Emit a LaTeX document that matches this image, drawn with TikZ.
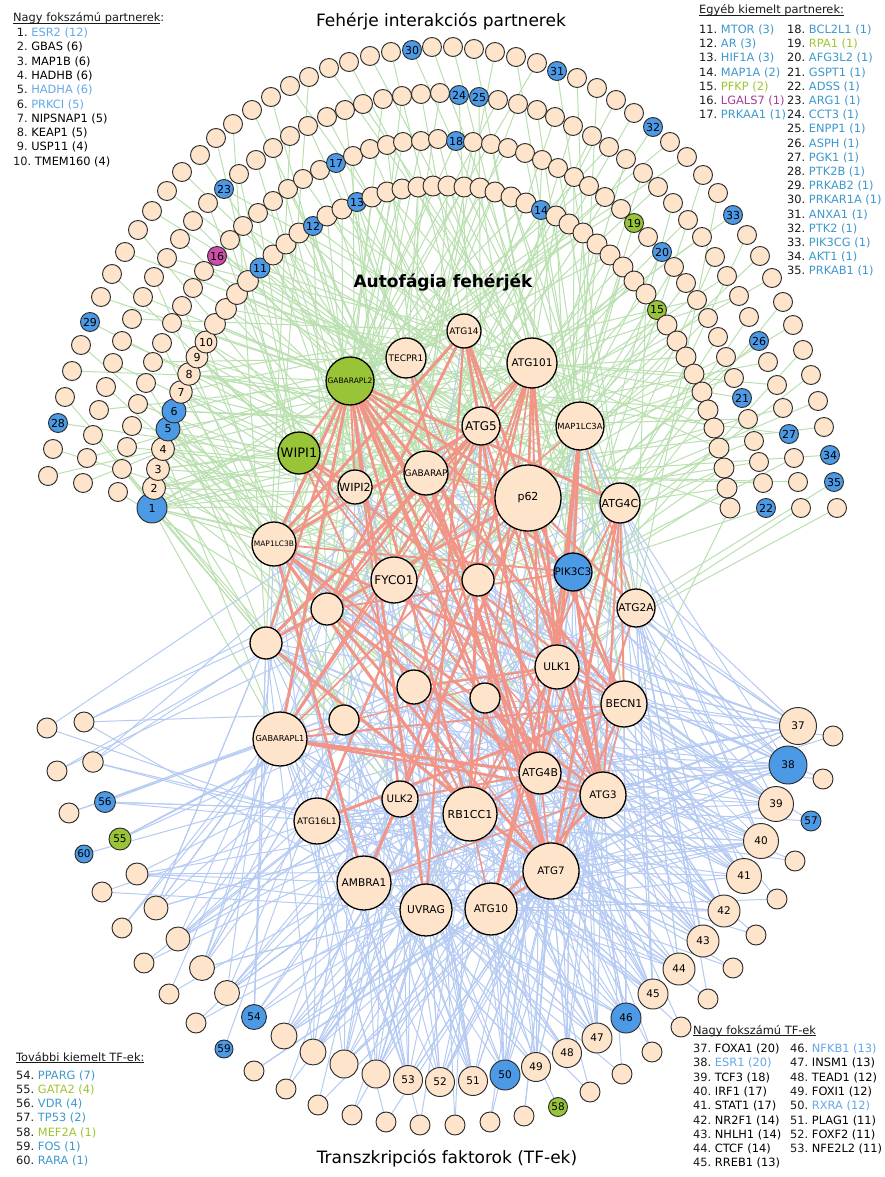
\documentclass[tikz,border=0pt]{standalone}
\usepackage{fontspec}
\setmainfont{DejaVu Sans}
\definecolor{nP}{RGB}{253,228,203}
\definecolor{nB}{RGB}{76,154,230}
\definecolor{nG}{RGB}{153,196,56}
\definecolor{nM}{RGB}{208,78,170}
\definecolor{eG}{RGB}{186,224,176}
\definecolor{eB}{RGB}{182,203,243}
\definecolor{eR}{RGB}{242,148,134}
\definecolor{lblue}{RGB}{100,168,232}
\definecolor{tblue}{RGB}{62,152,204}
\definecolor{lgreen}{RGB}{160,196,48}
\definecolor{lpurple}{RGB}{168,60,150}
\definecolor{bord}{RGB}{45,45,45}
\tikzset{
  anode/.style={circle, draw=black, line width=1.3pt, inner sep=0pt},
  rnode/.style={circle, draw=bord, line width=0.95pt, inner sep=0pt},
  gedge/.style={draw=eG, line width=1pt},
  bedge/.style={draw=eB, line width=1pt},
  redge/.style={draw=eR},
  lg/.style={anchor=west, inner sep=0pt, font=\fontsize{11.4}{13}\selectfont, text=black!90},
  ttl/.style={inner sep=0pt, font=\fontsize{17}{20}\selectfont},
}
\newcommand{\lgitem}[5]{\node[lg] (lg#1) at (#2,#3) {#1.\ \textcolor{#4}{#5}};}
\newcommand{\lgitemS}[5]{\node[lg] (lg#1) at (#2,#3) {\ #1.\ \textcolor{#4}{#5}};}
\newcommand{\lgul}[1]{\underline{\smash{#1}}}
\newcommand{\alist}{
1/464/331/17/P/9/ATG14, 2/406/358/20/P/9/TECPR1, 3/532/363/25/P/10.5/ATG101,
4/350/381/24/G/7.5/GABARAPL2, 5/481/426/19/P/12/ATG5, 6/580/426/24/P/8.4/MAP1LC3A,
7/299/453/21/G/13/WIPI1, 8/426/473/22/P/9/GABARAP, 9/355/487/17/P/11.2/WIPI2,
10/528/498/33/P/11/p62, 11/620/503/20/P/11/ATG4C, 12/274/544/22/P/7.5/MAP1LC3B,
13/394/580/23/P/12/FYCO1, 14/478/580/16/P/10/, 15/573/572/19/B/10.4/PIK3C3,
16/327/609/16/P/10/, 17/636/608/19/P/10.6/ATG2A, 18/266/643/16/P/10/,
19/557/667/22/P/10.6/ULK1, 20/414/687/17/P/10/, 21/485/698/15/P/10/,
22/624/704/23/P/10.8/BECN1, 23/344/720/15/P/10/, 24/280/739/27/P/8.2/GABARAPL1,
25/540/773/21/P/10.8/ATG4B, 26/603/795/23/P/10.3/ATG3, 27/400/799/18/P/10.3/ULK2,
28/470/814/27/P/11/RB1CC1, 29/317/821/23/P/8.9/ATG16L1, 30/551/871/28/P/10.3/ATG7,
31/364/883/27/P/10.6/AMBRA1, 32/426/910/26/P/10.7/UVRAG, 33/491/909/26/P/10.5/ATG10}
\newcommand{\plist}{
152/508/1/B/15/12, 154/488/2/P/11.5/6, 158/469/3/P/11.5/6, 163/449/4/P/11.5/6,
168/429/5/B/12/6, 174/411/6/B/12/5, 181/392/7/P/11.3/5, 189/374/8/P/11.3/5,
197/357/9/P/11/4, 206/342/10/P/11/4,
215/324//P/10.5/2, 226/309//P/10.5/2, 237/294//P/10.5/2, 248/281//P/10.5/2,
260/268/11/B/10/3, 273/255//P/10/2, 286/244//P/10/2, 299/233//P/10/2,
313/226/12/B/9.5/3, 327/216//P/10/2, 342/209//P/10/2, 357/202/13/B/9.5/3,
372/197//P/10/2, 387/192//P/10/2, 402/189//P/10/2, 418/187//P/10/2, 433/186//P/10/2,
448/186//P/10/2, 464/187//P/10/2, 480/188//P/10/2, 495/192//P/10/2, 511/197//P/10/2,
526/203//P/10/2, 541/210/14/B/9.5/2,
556/216//P/10/2, 569/224//P/10/2, 583/233//P/10/2, 597/244//P/10/2, 610/255//P/10/2,
623/267//P/10/2, 634/281//P/10/2, 646/294//P/10/2, 657/310/15/G/9.5/2,
667/325//P/10/2, 677/341//P/10/2, 686/357//P/10/2, 694/374//P/10/2, 702/392//P/10/2,
708/410//P/10/2, 714/428//P/10/2, 719/448//P/10/2, 724/468//P/10/2, 727/488//P/10/2,
730/508//P/10/2,
118/492//P/9.5/1, 122/469//P/9.5/1, 127/447//P/9.5/1, 132/426//P/9.5/1, 138/404//P/9.5/1,
146/383//P/9.5/1, 153/362//P/9.5/1, 162/343//P/9.5/1, 172/323//P/9.5/1, 182/306//P/9.5/1,
193/288//P/9.5/1, 204/271//P/9.5/1, 217/256/16/M/9.5/1, 230/240//P/9.5/1, 243/226//P/9.5/1,
258/213//P/9.5/1, 273/201//P/9.5/1, 288/189//P/9.5/1, 303/179//P/9.5/1, 320/170//P/9.5/1,
336/163/17/B/9.5/1, 353/156//P/9.5/1, 370/149//P/9.5/1, 387/145//P/9.5/1, 403/142//P/9.5/1,
421/141//P/9.5/1, 438/139//P/9.5/1, 456/141/18/B/9.5/1, 473/142//P/9.5/1, 491/144//P/9.5/1,
508/148//P/9.5/1, 525/153//P/9.5/1, 542/160//P/9.5/1, 558/168//P/9.5/1, 574/177//P/9.5/1,
589/186//P/9.5/1, 605/197//P/9.5/1, 621/209//P/9.5/1, 634/223/19/G/9.5/1, 648/237//P/9.5/1,
662/252/20/B/9.5/1, 674/267//P/9.5/1, 686/283//P/9.5/1, 697/300//P/9.5/1, 708/318//P/9.5/1,
718/337//P/9.5/1, 726/357//P/9.5/1, 734/378//P/9.5/1, 742/398/21/B/9.5/1, 748/419//P/9.5/1,
754/441//P/9.5/1, 759/462//P/9.5/1, 763/483//P/9.5/1, 766/508/22/B/9.5/1,
83/483//P/9.5/1, 87/458//P/9.5/1, 93/435//P/9.5/1, 99/410//P/9.5/1, 106/387//P/9.5/1,
113/363//P/9.5/1, 122/341//P/9.5/1, 132/319//P/9.5/1, 143/297//P/9.5/1, 154/277//P/9.5/1,
167/258//P/9.5/1, 180/239//P/9.5/1, 193/221//P/9.5/1, 208/203//P/9.5/1, 224/189/23/B/9.5/1,
239/174//P/9.5/1, 256/160//P/9.5/1, 273/148//P/9.5/1, 290/136//P/9.5/1, 308/126//P/9.5/1,
327/117//P/9.5/1, 345/110//P/9.5/1, 363/104//P/9.5/1, 383/99//P/9.5/1, 402/96//P/9.5/1,
421/94//P/9.5/1, 440/93//P/9.5/1, 459/95/24/B/9.5/1, 479/97/25/B/9.5/1, 498/100//P/9.5/1,
518/104//P/9.5/1, 537/110//P/9.5/1, 555/117//P/9.5/1, 573/126//P/9.5/1, 592/136//P/9.5/1,
609/147//P/9.5/1, 626/159//P/9.5/1, 643/173//P/9.5/1, 658/187//P/9.5/1, 673/203//P/9.5/1,
688/220//P/9.5/1, 702/237//P/9.5/1, 715/257//P/9.5/1, 727/276//P/9.5/1, 739/296//P/9.5/1,
749/317//P/9.5/1, 759/341/26/B/9.5/1, 768/362//P/9.5/1, 777/385//P/9.5/1, 783/408//P/9.5/1,
789/434/27/B/9.5/1, 794/458//P/9.5/1, 798/482//P/9.5/1, 801/508//P/9.5/1,
48/476//P/9.5/1, 53/449//P/9.5/1, 58/423/28/B/9.5/1, 65/397//P/9.5/1, 72/371//P/9.5/1,
81/345//P/9.5/1, 90/322/29/B/9.5/1, 101/297//P/9.5/1, 112/274//P/9.5/1, 125/252//P/9.5/1,
138/230//P/9.5/1, 152/211//P/9.5/1, 167/191//P/9.5/1, 182/172//P/9.5/1, 200/155//P/9.5/1,
216/138//P/9.5/1, 233/124//P/9.5/1, 252/110//P/9.5/1, 271/97//P/9.5/1, 290/86//P/9.5/1,
309/77//P/9.5/1, 329/68//P/9.5/1, 349/62//P/9.5/1, 370/56//P/9.5/1, 391/52//P/9.5/1,
412/50/30/B/9.5/1, 432/47//P/9.5/1, 453/47//P/9.5/1, 474/49//P/9.5/1, 495/52//P/9.5/1,
516/57//P/9.5/1, 537/63//P/9.5/1, 557/71/31/B/9.5/1, 577/78//P/9.5/1, 597/88//P/9.5/1,
616/100//P/9.5/1, 634/113//P/9.5/1, 653/127/32/B/9.5/1, 670/142//P/9.5/1, 687/157//P/9.5/1,
703/175//P/9.5/1, 718/193//P/9.5/1, 733/215/33/B/9.5/1, 747/235//P/9.5/1, 760/256//P/9.5/1,
772/278//P/9.5/1, 783/302//P/9.5/1, 793/325//P/9.5/1, 803/350//P/9.5/1, 811/375//P/9.5/1,
818/401//P/9.5/1, 824/427//P/9.5/1, 830/455/34/B/9.5/1, 834/482/35/B/9.5/1, 837/508//P/9.5/1}
\newcommand{\tlist}{
798/726/37/P/18.5/20, 788/765/38/B/19/20, 776/804/39/P/17.5/18, 761/841/40/P/17.5/17,
744/876/41/P/17.5/17, 724/911/42/P/16/14, 703/941/43/P/16/14, 679/969/44/P/16/14,
653/994/45/P/15/13, 626/1018/46/B/15/13, 597/1038/47/P/15/13, 567/1053/48/P/14.5/12,
536/1067/49/P/14.5/12, 505/1075/50/B/15/12, 473/1081/51/P/14.5/11, 440/1082/52/P/14.5/11,
408/1080/53/P/14.5/11, 376/1074//P/14/10, 344/1064//P/14/10, 313/1052//P/13/9,
284/1036//P/13/9, 254/1017/54/B/12.5/7, 227/993//P/12.5/8, 202/968//P/12.5/8,
178/939//P/12/7, 156/908//P/12/7, 137/874//P/11/5, 120/839/55/G/11/4,
105/802/56/B/10.5/4, 93/762//P/10.3/4, 84/722//P/10/4,
47/728//P/10/2, 57/771//P/10/2, 69/813//P/10/2, 84/854/60/B/9/1, 102/892//P/10/2,
122/928//P/10/2, 144/963//P/10/2, 169/994//P/10/2, 196/1023//P/10/2, 224/1049/59/B/9/1,
254/1071//P/10/2, 286/1089//P/10/2, 318/1105//P/10/2, 352/1115//P/10/2, 386/1122//P/10/2,
420/1125//P/10/2, 455/1125//P/10/2, 490/1122//P/10/2, 524/1116//P/10/2, 558/1107/58/G/9.5/1,
590/1092//P/10/2, 622/1074//P/10/2, 652/1052//P/10/2, 681/1027//P/10/2, 708/999//P/10/2,
733/968//P/10/2, 756/935//P/10/2, 777/899//P/10/2, 795/861//P/10/2, 811/821/57/B/10/2,
823/779//P/10/2, 833/736//P/10/2}
\begin{document}
\begin{tikzpicture}[x=1pt,y=-1pt]
\fill[white] (0,0) rectangle (884,1177);
\useasboundingbox (0,0) rectangle (884,1177);
\pgfmathsetseed{2024}

% anchor points of the autophagy proteins
\foreach \n/\x/\y/\rr/\cl/\fs/\tx in \alist { \coordinate (a\n) at (\x,\y); }

% partner -> autophagy connectors (green)
\foreach \x/\y/\lb/\cl/\rr/\dg [count=\i] in \plist {
  \coordinate (p\i) at (\x,\y);
  \foreach \k in {1,...,\dg}{
    \pgfmathtruncatemacro\tg{max(1,min(33,1+int(33*rnd*(0.35+0.65*rnd))))}
    \draw[gedge] (p\i) -- (a\tg);
  }
}
% TF -> autophagy connectors (blue)
\foreach \x/\y/\lb/\cl/\rr/\dg [count=\i] in \tlist {
  \coordinate (t\i) at (\x,\y);
  \foreach \k in {1,...,\dg}{
    \pgfmathtruncatemacro\tg{max(1,min(33,33-int(33*rnd*(0.5+0.5*rnd))))}
    \draw[bedge] (t\i) -- (a\tg);
  }
}
% autophagy - autophagy connectors (salmon)
\pgfmathdeclarerandomlist{hubs}{{4}{8}{10}{6}{12}{24}{25}{26}{30}{28}{15}{19}{22}{1}{3}{5}{4}{10}{26}{25}}
\foreach \k in {1,...,110}{
  \pgfmathrandomitem{\u}{hubs}
  \pgfmathtruncatemacro\v{random(1,33)}
  \pgfmathtruncatemacro\v{\v==\u ? mod(\u+6,33)+1 : \v}
  \pgfmathsetmacro\w{1.3+1.9*rnd}
  \draw[redge, line width=\w pt] (a\u) -- (a\v);
}
\foreach \u/\v in {4/25,4/26,4/30,4/28,4/10,1/26,1/10,6/15,6/25,10/26,12/26,24/26,8/30,8/25,7/9,3/10}{
  \draw[redge, line width=2.6pt] (a\u) -- (a\v);
}

% nodes on top
\foreach \n/\x/\y/\rr/\cl/\fs/\tx in \alist {
  \node[anode, fill=n\cl, minimum size=2*\rr pt,
        label={[font=\fontsize{\fs}{\fs}\selectfont, inner sep=0pt]center:\tx}] (a\n) at (\x,\y) {};
}
\foreach \x/\y/\lb/\cl/\rr/\dg [count=\i] in \plist {
  \node[rnode, fill=n\cl, minimum size=2*\rr pt,
        label={[font=\fontsize{11}{11}\selectfont, inner sep=0pt]center:\lb}] (p\i) at (\x,\y) {};
}
\foreach \x/\y/\lb/\cl/\rr/\dg [count=\i] in \tlist {
  \node[rnode, fill=n\cl, minimum size=2*\rr pt,
        label={[font=\fontsize{10.5}{10.5}\selectfont, inner sep=0pt]center:\lb}] (t\i) at (\x,\y) {};
}

% titles
\node[ttl] (ttop) at (441,21) {Fehérje interakciós partnerek};
\node[inner sep=0pt, font=\bfseries\fontsize{17}{20}\selectfont] (tmid) at (443,283) {Autofágia fehérjék};
\node[ttl] (tbot) at (447,1158) {Transzkripciós faktorok (TF-ek)};

% legend: top left
\node[lg] (lgA) at (13,20) {\lgul{Nagy fokszámú partnerek}:};
\lgitemS{1}{13}{33.0}{lblue}{ESR2 (12)}
\lgitemS{2}{13}{47.3}{black}{GBAS (6)}
\lgitemS{3}{13}{61.6}{black}{MAP1B (6)}
\lgitemS{4}{13}{75.9}{black}{HADHB (6)}
\lgitemS{5}{13}{90.2}{lblue}{HADHA (6)}
\lgitemS{6}{13}{104.5}{lblue}{PRKCI (5)}
\lgitemS{7}{13}{118.8}{black}{NIPSNAP1 (5)}
\lgitemS{8}{13}{133.1}{black}{KEAP1 (5)}
\lgitemS{9}{13}{147.4}{black}{USP11 (4)}
\lgitem{10}{13}{161.7}{black}{TMEM160 (4)}

% legend: top right
\node[lg] (lgB) at (699,15) {\lgul{Egyéb kiemelt partnerek:}};
\lgitem{11}{699}{30.0}{tblue}{MTOR (3)}
\lgitem{12}{699}{44.2}{tblue}{AR (3)}
\lgitem{13}{699}{58.4}{tblue}{HIF1A (3)}
\lgitem{14}{699}{72.6}{tblue}{MAP1A (2)}
\lgitem{15}{699}{86.8}{lgreen}{PFKP (2)}
\lgitem{16}{699}{101.0}{lpurple}{LGALS7 (1)}
\lgitem{17}{699}{115.2}{tblue}{PRKAA1 (1)}
\lgitem{18}{787}{30.0}{tblue}{BCL2L1 (1)}
\lgitem{19}{787}{44.2}{lgreen}{RPA1 (1)}
\lgitem{20}{787}{58.4}{tblue}{AFG3L2 (1)}
\lgitem{21}{787}{72.6}{tblue}{GSPT1 (1)}
\lgitem{22}{787}{86.8}{tblue}{ADSS (1)}
\lgitem{23}{787}{101.0}{tblue}{ARG1 (1)}
\lgitem{24}{787}{115.2}{tblue}{CCT3 (1)}
\lgitem{25}{787}{129.4}{tblue}{ENPP1 (1)}
\lgitem{26}{787}{143.6}{tblue}{ASPH (1)}
\lgitem{27}{787}{157.8}{tblue}{PGK1 (1)}
\lgitem{28}{787}{172.0}{tblue}{PTK2B (1)}
\lgitem{29}{787}{186.2}{tblue}{PRKAB2 (1)}
\lgitem{30}{787}{200.4}{tblue}{PRKAR1A (1)}
\lgitem{31}{787}{214.6}{tblue}{ANXA1 (1)}
\lgitem{32}{787}{228.8}{tblue}{PTK2 (1)}
\lgitem{33}{787}{243.0}{tblue}{PIK3CG (1)}
\lgitem{34}{787}{257.2}{tblue}{AKT1 (1)}
\lgitem{35}{787}{271.4}{tblue}{PRKAB1 (1)}

% legend: bottom left
\node[lg] (lgC) at (16,1062) {\lgul{További kiemelt TF-ek:}};
\lgitem{54}{16}{1075.5}{tblue}{PPARG (7)}
\lgitem{55}{16}{1089.8}{lgreen}{GATA2 (4)}
\lgitem{56}{16}{1104.1}{tblue}{VDR (4)}
\lgitem{57}{16}{1118.4}{tblue}{TP53 (2)}
\lgitem{58}{16}{1132.7}{lgreen}{MEF2A (1)}
\lgitem{59}{16}{1147.0}{tblue}{FOS (1)}
\lgitem{60}{16}{1161.3}{tblue}{RARA (1)}

% legend: bottom right
\node[lg] (lgD) at (693,1035) {\lgul{Nagy fokszámú TF-ek}};
\lgitem{37}{693}{1049.0}{black}{FOXA1 (20)}
\lgitem{38}{693}{1063.3}{lblue}{ESR1 (20)}
\lgitem{39}{693}{1077.6}{black}{TCF3 (18)}
\lgitem{40}{693}{1091.9}{black}{IRF1 (17)}
\lgitem{41}{693}{1106.2}{black}{STAT1 (17)}
\lgitem{42}{693}{1120.5}{black}{NR2F1 (14)}
\lgitem{43}{693}{1134.8}{black}{NHLH1 (14)}
\lgitem{44}{693}{1149.1}{black}{CTCF (14)}
\lgitem{45}{693}{1163.4}{black}{RREB1 (13)}
\lgitem{46}{790}{1049.0}{lblue}{NFKB1 (13)}
\lgitem{47}{790}{1063.3}{black}{INSM1 (13)}
\lgitem{48}{790}{1077.6}{black}{TEAD1 (12)}
\lgitem{49}{790}{1091.9}{black}{FOXI1 (12)}
\lgitem{50}{790}{1106.2}{lblue}{RXRA (12)}
\lgitem{51}{790}{1120.5}{black}{PLAG1 (11)}
\lgitem{52}{790}{1134.8}{black}{FOXF2 (11)}
\lgitem{53}{790}{1149.1}{black}{NFE2L2 (11)}
\end{tikzpicture}
\end{document}
